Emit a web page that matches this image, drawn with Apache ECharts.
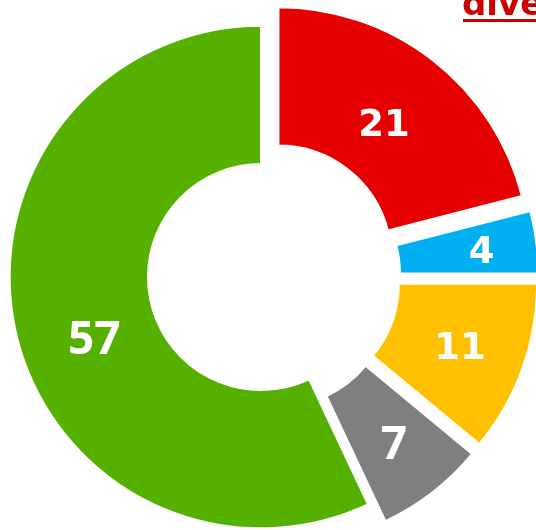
<!DOCTYPE html>
<html>
<head>
<meta charset="utf-8">
<script src="https://cdn.jsdelivr.net/npm/echarts@6/dist/echarts.min.js"></script>
<style>
  html, body { margin: 0; padding: 0; background: #fff; }
  #chart { width: 536px; height: 530px; }
</style>
</head>
<body>
<div id="chart"></div>
<script>
// data
const categories = ['Rouge', 'Bleu', 'Jaune', 'Gris', 'Vert']
const values = [21, 4, 11, 7, 57]
const titleText = 'dive'

// styles
const palette = ['#e60000', '#00b0f0', '#ffc000', '#7f7f7f', '#56b000']
const boldFont = { fontFamily: 'DejaVu Sans', fontWeight: 'bold', fontSize: 37 }
const lightFont = { fontFamily: 'Open Sans', fontWeight: 700, fontSize: 46 }
const labelFonts = [boldFont, boldFont, boldFont, lightFont, lightFont]
const labelNudge = [[-8, 14], [11, 3], [0, 3], [2, 6], [14, 23]]
const bigIndex = 4 // the large slice sits almost in place, the others are pulled out

const chart = echarts.init(document.getElementById('chart'), null, { renderer: 'canvas' })

function makeData(showBig) {
  return categories.map((name, i) => {
    const visible = (i === bigIndex) === showBig
    return {
      name,
      value: values[i],
      selected: true,
      itemStyle: visible
        ? { color: palette[i], borderColor: '#fff', borderWidth: 2 }
        : { color: 'rgba(0,0,0,0)', borderWidth: 0 },
      label: visible
        ? { show: true, color: '#fff', ...labelFonts[i] }
        : { show: false },
    }
  })
}

function pieSeries(showBig, offset) {
  return {
    type: 'pie',
    center: [264.8, 276.2],
    radius: [113, 251.3],
    startAngle: 90,
    clockwise: true,
    selectedMode: 'multiple',
    selectedOffset: offset,
    avoidLabelOverlap: false,
    silent: true,
    emphasis: { disabled: true, scale: false },
    label: { position: 'inside', formatter: '{c}' },
    labelLine: { show: false },
    labelLayout: (p) => {
      const n = labelNudge[p.dataIndex]
      return { dx: n[0], dy: n[1] }
    },
    data: makeData(showBig),
  }
}

chart.setOption({
  animation: false,
  graphic: [
    {
      type: 'text',
      left: 462,
      top: -11,
      style: {
        text: titleText,
        fill: '#cc0000',
        font: 'bold 34px "DejaVu Sans"',
      },
    },
    {
      type: 'rect',
      shape: { x: 463, y: 19, width: 80, height: 3 },
      style: { fill: '#cc0000' },
    },
  ],
  series: [pieSeries(false, 22.3), pieSeries(true, 3.9)],
})
</script>
</body>
</html>
